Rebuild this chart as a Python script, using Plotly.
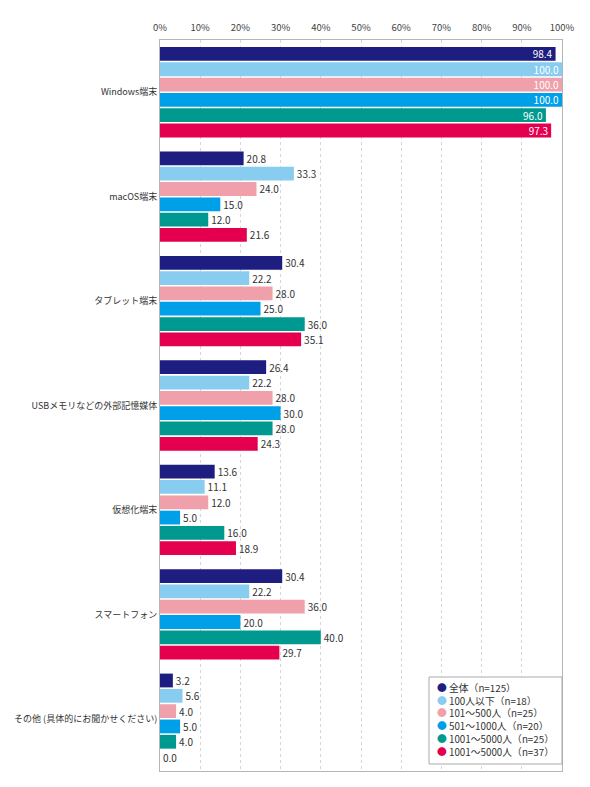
import plotly.graph_objects as go

categories = ["Windows端末", "macOS端末", "タブレット端末", "USBメモリなどの外部記憶媒体",
              "仮想化端末", "スマートフォン", "その他 (具体的にお聞かせください)"]
series_names = ["全体（n=125）", "100人以下（n=18）", "101〜500人（n=25）",
                "501〜1000人（n=20）", "1001〜5000人（n=25）", "1001〜5000人（n=37）"]
colors = ["#1d1e80", "#88ccf0", "#f0a0aa", "#00a0e8", "#00998f", "#e4004f"]

v_all = [98.4, 20.8, 30.4, 26.4, 13.6, 30.4, 3.2]
v_100 = [100.0, 33.3, 22.2, 22.2, 11.1, 22.2, 5.6]
v_500 = [100.0, 24.0, 28.0, 28.0, 12.0, 36.0, 4.0]
v_1000 = [100.0, 15.0, 25.0, 30.0, 5.0, 20.0, 5.0]
v_5000a = [96.0, 12.0, 36.0, 28.0, 16.0, 40.0, 4.0]
v_5000b = [97.3, 21.6, 35.1, 24.3, 18.9, 29.7, 0.0]
series_values = [v_all, v_100, v_500, v_1000, v_5000a, v_5000b]

tick_vals = list(range(0, 101, 10))
tick_text = [f"{t}%" for t in tick_vals]

fig = go.Figure()
for name, vals, col in zip(series_names, series_values, colors):
    positions = ["inside" if v >= 90 else "outside" for v in vals]
    tcolors = ["white" if v >= 90 else "#333333" for v in vals]
    fig.add_trace(go.Bar(
        y=categories, x=vals, orientation="h", name=name,
        marker=dict(color=col, line=dict(width=0)),
        text=[f"{v:.1f}" for v in vals], textposition=positions,
        insidetextanchor="end",
        textfont=dict(color=tcolors, size=10, family="Noto Sans CJK JP"),
        constraintext="none", cliponaxis=False, showlegend=False,
    ))

# page body has an 8px margin, so the figure is 8px smaller than the window
fig.update_layout(
    width=582, height=779,
    margin=dict(l=152, r=28, t=32, b=16),
    barmode="group", bargap=0.12, bargroupgap=0.1,
    plot_bgcolor="white", paper_bgcolor="white",
    font=dict(family="Noto Sans CJK JP", size=10, color="#333333"),
)
fig.update_xaxes(
    range=[0, 100], side="top", tickvals=tick_vals, ticktext=tick_text,
    showgrid=True, gridcolor="#d6d6d6", griddash="dot", gridwidth=1,
    showline=True, linecolor="#b5b5b5", linewidth=1, mirror=True,
    ticks="", tickfont=dict(size=9.5, color="#444444"), zeroline=False,
    automargin=False, ticklabelstandoff=4,
)
fig.update_yaxes(
    autorange="reversed", showline=True, linecolor="#b5b5b5", linewidth=1,
    mirror=True, ticks="", ticklabelstandoff=0,
    tickfont=dict(size=9, color="#333333"), showgrid=False, automargin=False,
)

# custom legend box (paper coords relative to plot area 402x731)
fig.add_shape(type="rect", xref="paper", yref="paper",
              x0=(429 - 160) / 402, x1=1.0,
              y0=(771 - 764) / 731, y1=(771 - 677) / 731,
              line=dict(color="#aaaaaa", width=1), fillcolor="white", layer="above")
legend_lines = [f'<span style="color:{col}">●</span> {name}'
                for name, col in zip(series_names, colors)]
fig.add_annotation(
    xref="paper", yref="paper",
    x=(435 - 160) / 402, y=(771 - 720) / 731,
    xanchor="left", yanchor="middle", align="left", showarrow=False,
    text="<br>".join(legend_lines),
    font=dict(size=9.8, color="#333333"),
)

fig.write_html("out.html")
